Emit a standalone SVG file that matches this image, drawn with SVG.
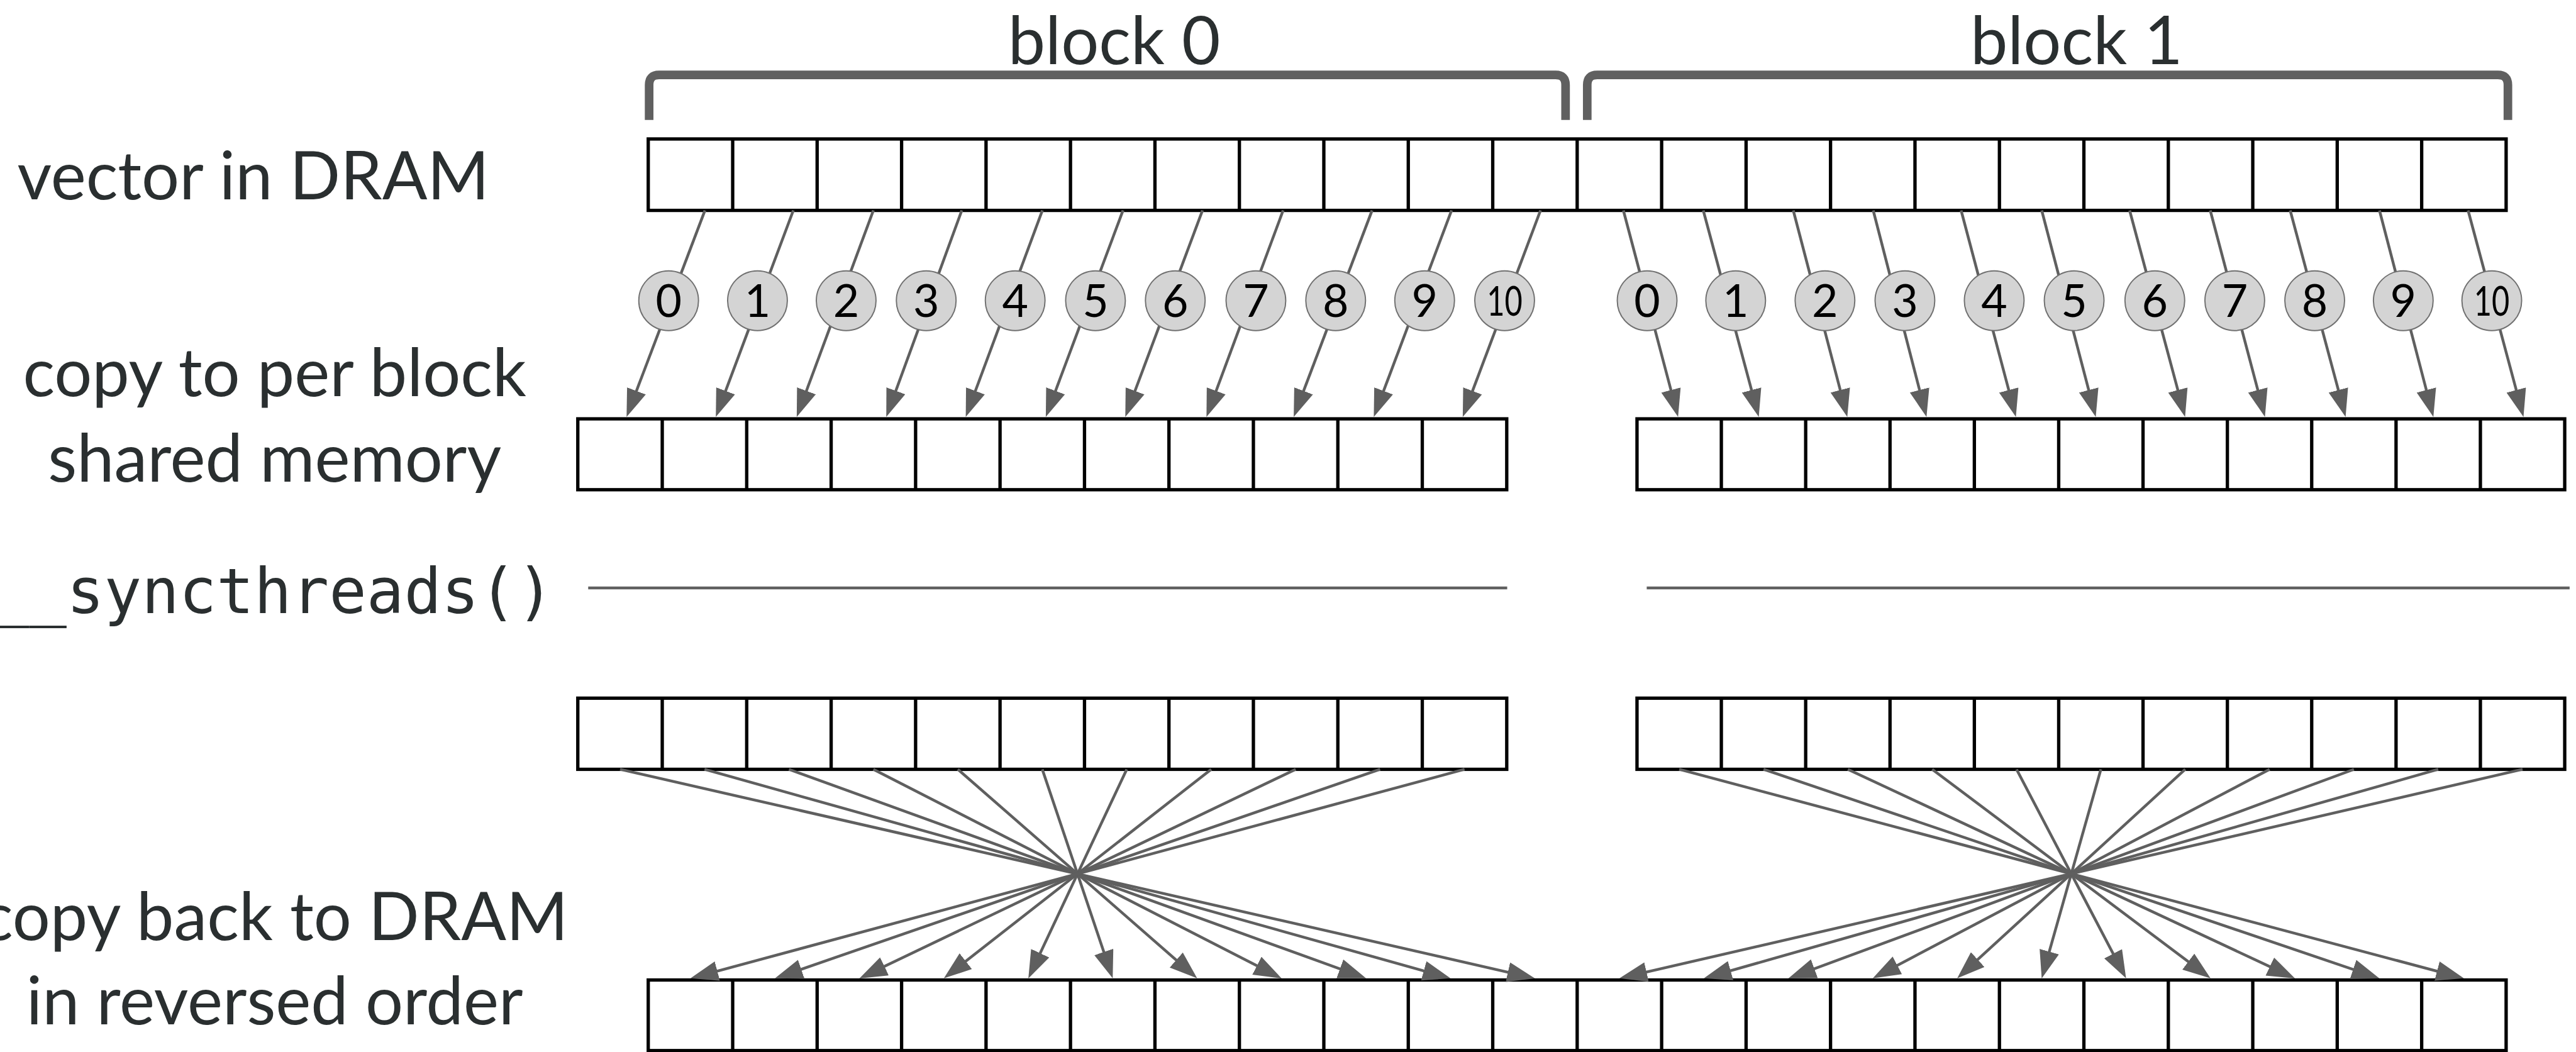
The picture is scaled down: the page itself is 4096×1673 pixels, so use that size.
<svg xmlns="http://www.w3.org/2000/svg" width="4096" height="1673" viewBox="0 0 4096 1673">
<defs>
<style>
.lbl{font-family:Lato,"Open Sans","Liberation Sans",sans-serif;font-size:120px;fill:#2a2f30}
.mono{font-family:"DejaVu Sans Mono","Liberation Mono",monospace;font-size:112px;fill:#2a2f30}
.row{fill:#fff;stroke:#000;stroke-width:6}
.div{fill:none;stroke:#000;stroke-width:6}
.br{fill:none;stroke:#606060;stroke-width:15.5}
.sync{fill:none;stroke:#606060;stroke-width:5}
.cn{fill:none;stroke:#5f5f5f;stroke-width:5;marker-end:url(#ah)}
.cir{fill:#d4d4d4;stroke:#707070;stroke-width:2.2}
.num{font-family:Lato,"Open Sans","Liberation Sans",sans-serif;font-size:81px;fill:#000;text-anchor:middle}
.ten{font-size:75px}
</style>
<marker id="ah" markerUnits="userSpaceOnUse" viewBox="0 0 50 36" refX="38" refY="18" markerWidth="50" markerHeight="36" orient="auto">
<path d="M0,0L50,18L0,36z" fill="#5f5f5f"/>
</marker>
</defs>
<rect x="0" y="0" width="4096" height="1673" fill="#fff"/>
<g transform="scale(0.884)">
<g id="labels">
<text class="lbl" x="1813" y="115">block 0</text>
<text class="lbl" x="3544" y="115">block 1</text>
<text class="lbl" x="31" y="358.5">vector in DRAM</text>
<text class="lbl" x="494" y="713" text-anchor="middle">copy to per block</text>
<text class="lbl" x="494" y="866" text-anchor="middle">shared memory</text>
<text class="mono" x="-15" y="1102.5">__syncthreads()</text>
<text class="lbl" x="494" y="1690.7" text-anchor="middle">copy back to DRAM</text>
<text class="lbl" x="494" y="1843" text-anchor="middle">in reversed order</text>
</g>
<g id="bracket-block0"><path class="br" d="M1167.6,215.7V152.7Q1167.6,134.7 1185.6,134.7H2798Q2816,134.7 2816,152.7V215.7"/></g>
<g id="bracket-block1"><path class="br" d="M2855,215.7V152.7Q2855,134.7 2873,134.7H4493Q4511,134.7 4511,152.7V215.7"/></g>
<g id="dram-vector">
<rect class="row" x="1166" y="250" width="3341.8" height="128.5"/>
<path class="div" d="M1317.9,250v128.5m151.9,-128.5v128.5m151.9,-128.5v128.5m151.9,-128.5v128.5m151.9,-128.5v128.5m151.9,-128.5v128.5m151.9,-128.5v128.5m151.9,-128.5v128.5m151.9,-128.5v128.5m151.9,-128.5v128.5m151.9,-128.5v128.5m151.9,-128.5v128.5m151.9,-128.5v128.5m151.9,-128.5v128.5m151.9,-128.5v128.5m151.9,-128.5v128.5m151.9,-128.5v128.5m151.9,-128.5v128.5m151.9,-128.5v128.5m151.9,-128.5v128.5m151.9,-128.5v128.5"/>
</g>
<g id="shared-block0">
<rect class="row" x="1039.3" y="753.5" width="1670.9" height="127.5"/>
<path class="div" d="M1191.2,753.5v127.5m151.9,-127.5v127.5m151.9,-127.5v127.5m151.9,-127.5v127.5m151.9,-127.5v127.5m151.9,-127.5v127.5m151.9,-127.5v127.5m151.9,-127.5v127.5m151.9,-127.5v127.5m151.9,-127.5v127.5"/>
</g>
<g id="shared-block1">
<rect class="row" x="2944.5" y="753.5" width="1668.7" height="127.5"/>
<path class="div" d="M3096.2,753.5v127.5m151.7,-127.5v127.5m151.7,-127.5v127.5m151.7,-127.5v127.5m151.7,-127.5v127.5m151.7,-127.5v127.5m151.7,-127.5v127.5m151.7,-127.5v127.5m151.7,-127.5v127.5m151.7,-127.5v127.5"/>
</g>
<g id="sync-barrier">
<path class="sync" d="M1058,1057.6H2711M2962,1057.6H4622"/>
</g>
<g id="shared-block0-after">
<rect class="row" x="1039.3" y="1256" width="1670.9" height="128"/>
<path class="div" d="M1191.2,1256v128m151.9,-128v128m151.9,-128v128m151.9,-128v128m151.9,-128v128m151.9,-128v128m151.9,-128v128m151.9,-128v128m151.9,-128v128m151.9,-128v128"/>
</g>
<g id="shared-block1-after">
<rect class="row" x="2944.5" y="1256" width="1668.7" height="128"/>
<path class="div" d="M3096.2,1256v128m151.7,-128v128m151.7,-128v128m151.7,-128v128m151.7,-128v128m151.7,-128v128m151.7,-128v128m151.7,-128v128m151.7,-128v128m151.7,-128v128"/>
</g>
<g id="dram-reversed">
<rect class="row" x="1166" y="1763" width="3341.8" height="127"/>
<path class="div" d="M1317.9,1763v127m151.9,-127v127m151.9,-127v127m151.9,-127v127m151.9,-127v127m151.9,-127v127m151.9,-127v127m151.9,-127v127m151.9,-127v127m151.9,-127v127m151.9,-127v127m151.9,-127v127m151.9,-127v127m151.9,-127v127m151.9,-127v127m151.9,-127v127m151.9,-127v127m151.9,-127v127m151.9,-127v127m151.9,-127v127m151.9,-127v127"/>
</g>
<g id="connectors">
<path class="cn" d="M1268,378.5L1131.3,738.8"/>
<path class="cn" d="M1427,378.5L1291.8,738.8"/>
<path class="cn" d="M1571,378.5L1437.3,738.8"/>
<path class="cn" d="M1730,378.5L1598.3,738.8"/>
<path class="cn" d="M1875,378.5L1741.3,738.8"/>
<path class="cn" d="M2020,378.5L1885.3,738.8"/>
<path class="cn" d="M2163,378.5L2028.3,738.8"/>
<path class="cn" d="M2308,378.5L2174.3,738.8"/>
<path class="cn" d="M2468,378.5L2331.3,738.8"/>
<path class="cn" d="M2611,378.5L2475.3,738.8"/>
<path class="cn" d="M2771,378.5L2635.3,738.8"/>
<path class="cn" d="M2920,378.5L3015.3,738.4"/>
<path class="cn" d="M3063.7,378.5L3160.4,738.4"/>
<path class="cn" d="M3225.6,378.5L3319.7,738.4"/>
<path class="cn" d="M3369.4,378.5L3462.2,738.4"/>
<path class="cn" d="M3527.5,378.5L3622.9,738.4"/>
<path class="cn" d="M3672.5,378.5L3766.6,738.4"/>
<path class="cn" d="M3830.6,378.5L3927.2,738.4"/>
<path class="cn" d="M3975.6,378.5L4070.9,738.4"/>
<path class="cn" d="M4119.4,378.5L4215.9,738.4"/>
<path class="cn" d="M4280,378.5L4373.9,738.4"/>
<path class="cn" d="M4439.4,378.5L4535.9,738.4"/>
<path class="cn" d="M1115.3,1384L2749.3,1757.4"/>
<path class="cn" d="M1267.2,1384L2597.5,1756.8"/>
<path class="cn" d="M1419.1,1384L2445.9,1755.9"/>
<path class="cn" d="M1571,1384L2294.6,1754.6"/>
<path class="cn" d="M1722.9,1384L2144.3,1752.1"/>
<path class="cn" d="M1874.8,1384L1997.6,1748.6"/>
<path class="cn" d="M2026.7,1384L1854.8,1749.2"/>
<path class="cn" d="M2178.6,1384L1707.2,1752.6"/>
<path class="cn" d="M2330.5,1384L1556.6,1754.9"/>
<path class="cn" d="M2482.4,1384L1405.3,1756.1"/>
<path class="cn" d="M2634.3,1384L1253.6,1756.9"/>
<path class="cn" d="M3020.4,1384L4420.2,1756.9"/>
<path class="cn" d="M3172.1,1384L4268.6,1756.2"/>
<path class="cn" d="M3323.8,1384L4117.2,1755"/>
<path class="cn" d="M3475.5,1384L3966.5,1752.8"/>
<path class="cn" d="M3627.2,1384L3818.6,1749.4"/>
<path class="cn" d="M3778.9,1384L3675.7,1748.5"/>
<path class="cn" d="M3930.6,1384L3529.3,1751.9"/>
<path class="cn" d="M4082.3,1384L3379.2,1754.4"/>
<path class="cn" d="M4234,1384L3227.9,1755.9"/>
<path class="cn" d="M4385.7,1384L3076.3,1756.7"/>
<path class="cn" d="M4537.4,1384L2924.6,1757.3"/>
</g>
<g id="t0-0"><circle class="cir" cx="1202.7" cy="541" r="53.7"/><text class="num" x="1202.7" y="570">0</text></g>
<g id="t0-1"><circle class="cir" cx="1362.5" cy="541" r="53.7"/><text class="num" x="1362.5" y="570">1</text></g>
<g id="t0-2"><circle class="cir" cx="1522" cy="541" r="53.7"/><text class="num" x="1522" y="570">2</text></g>
<g id="t0-3"><circle class="cir" cx="1666" cy="541" r="53.7"/><text class="num" x="1666" y="570">3</text></g>
<g id="t0-4"><circle class="cir" cx="1826" cy="541" r="53.7"/><text class="num" x="1826" y="570">4</text></g>
<g id="t0-5"><circle class="cir" cx="1970.5" cy="541" r="53.7"/><text class="num" x="1970.5" y="570">5</text></g>
<g id="t0-6"><circle class="cir" cx="2114" cy="541" r="53.7"/><text class="num" x="2114" y="570">6</text></g>
<g id="t0-7"><circle class="cir" cx="2259" cy="541" r="53.7"/><text class="num" x="2259" y="570">7</text></g>
<g id="t0-8"><circle class="cir" cx="2402.5" cy="541" r="53.7"/><text class="num" x="2402.5" y="570">8</text></g>
<g id="t0-9"><circle class="cir" cx="2562.5" cy="541" r="53.7"/><text class="num" x="2562.5" y="570">9</text></g>
<g id="t0-10"><circle class="cir" cx="2706.4" cy="541" r="53.7"/><text class="num ten" x="2706.4" y="568" textLength="64" lengthAdjust="spacingAndGlyphs">10</text></g>
<g id="t1-0"><circle class="cir" cx="2962.7" cy="541" r="53.7"/><text class="num" x="2962.7" y="570">0</text></g>
<g id="t1-1"><circle class="cir" cx="3122" cy="541" r="53.7"/><text class="num" x="3122" y="570">1</text></g>
<g id="t1-2"><circle class="cir" cx="3282.6" cy="541" r="53.7"/><text class="num" x="3282.6" y="570">2</text></g>
<g id="t1-3"><circle class="cir" cx="3426.4" cy="541" r="53.7"/><text class="num" x="3426.4" y="570">3</text></g>
<g id="t1-4"><circle class="cir" cx="3587" cy="541" r="53.7"/><text class="num" x="3587" y="570">4</text></g>
<g id="t1-5"><circle class="cir" cx="3730.8" cy="541" r="53.7"/><text class="num" x="3730.8" y="570">5</text></g>
<g id="t1-6"><circle class="cir" cx="3875.9" cy="541" r="53.7"/><text class="num" x="3875.9" y="570">6</text></g>
<g id="t1-7"><circle class="cir" cx="4019.7" cy="541" r="53.7"/><text class="num" x="4019.7" y="570">7</text></g>
<g id="t1-8"><circle class="cir" cx="4163.5" cy="541" r="53.7"/><text class="num" x="4163.5" y="570">8</text></g>
<g id="t1-9"><circle class="cir" cx="4322.8" cy="541" r="53.7"/><text class="num" x="4322.8" y="570">9</text></g>
<g id="t1-10"><circle class="cir" cx="4482" cy="541" r="53.7"/><text class="num ten" x="4482" y="568" textLength="64" lengthAdjust="spacingAndGlyphs">10</text></g>
</g>
</svg>
